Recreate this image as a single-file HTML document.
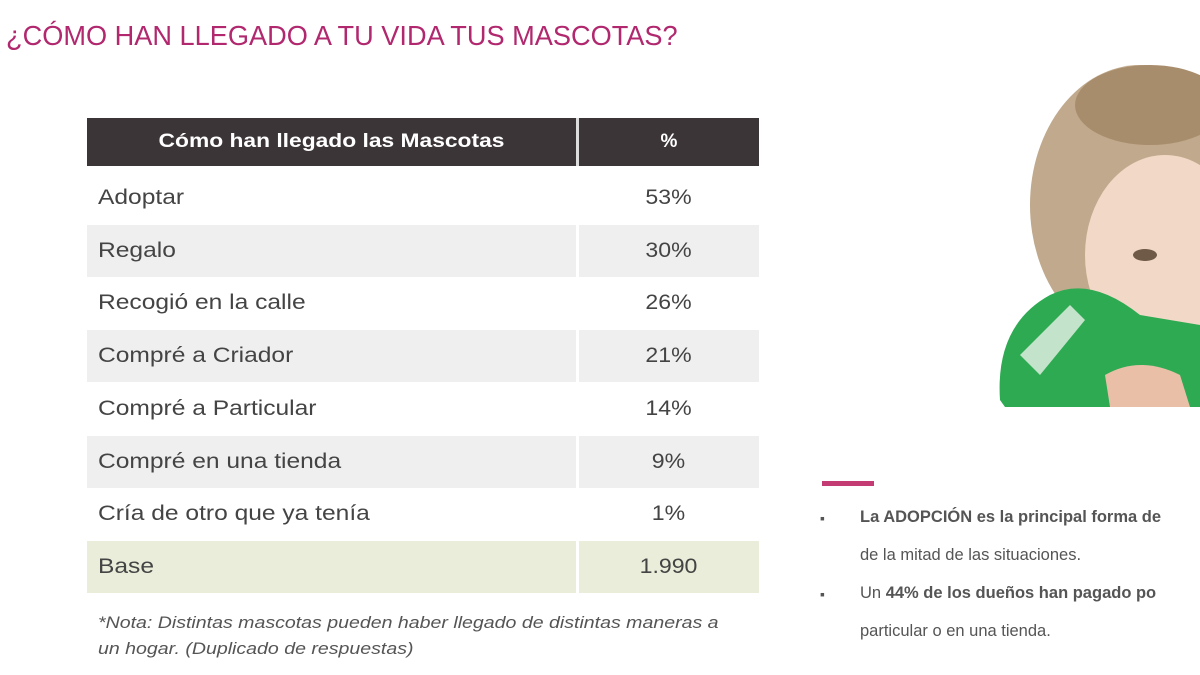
<!DOCTYPE html>
<html><head><meta charset="utf-8">
<style>
body{margin:0;width:1200px;height:675px;background:#fff;position:relative;overflow:hidden;font-family:"Liberation Sans",sans-serif;}
.abs{position:absolute;}
#title{left:6px;top:20px;font-size:28px;color:#b1286f;white-space:nowrap;transform:scaleX(0.97);transform-origin:left top;}
.row{position:absolute;left:87px;width:672px;height:52px;}
.lab{position:absolute;left:11px;top:0;line-height:52px;font-size:21px;color:#444;white-space:nowrap;transform:scaleX(1.17);transform-origin:left center;}
.val{position:absolute;left:491px;width:181px;text-align:center;top:0;line-height:52px;font-size:21px;color:#444;transform:scaleX(1.1);}
#note{left:98px;top:610px;font-size:17px;font-style:italic;color:#555;line-height:26px;white-space:nowrap;transform:scaleX(1.15);transform-origin:left top;}
.bt{left:860px;font-size:16.5px;color:#555;white-space:nowrap;}
.bul{left:820px;font-size:14px;color:#555;}
</style></head><body>
<div id="title" class="abs">¿CÓMO HAN LLEGADO A TU VIDA TUS MASCOTAS?</div>

<div class="abs" style="left:87px;top:118px;width:672px;height:48px;background:#3c3537;">
  <div class="abs" style="left:0;width:489px;top:0;line-height:48px;text-align:center;color:#fff;font-weight:bold;font-size:19px;transform:scaleX(1.2);">Cómo han llegado las Mascotas</div>
  <div class="abs" style="left:489px;width:3px;top:0;height:48px;background:#ddd;"></div>
  <div class="abs" style="left:492px;width:180px;top:0;line-height:48px;text-align:center;color:#fff;font-weight:bold;font-size:19px;">%</div>
</div>
<div id="rows"></div>

<div id="note" class="abs">*Nota: Distintas mascotas pueden haber llegado de distintas maneras a<br>un hogar. (Duplicado de respuestas)</div>

<svg class="abs" style="left:990px;top:55px" width="210" height="360">
  <ellipse cx="150" cy="150" rx="110" ry="140" fill="#b59a78" opacity="0.85"/>
  <ellipse cx="175" cy="200" rx="80" ry="100" fill="#f2d9c7"/>
  <ellipse cx="160" cy="50" rx="75" ry="40" fill="#a88d6c"/>
  <ellipse cx="155" cy="200" rx="12" ry="6" fill="#6f5a48"/>
  <path d="M10 345 Q5 270 60 240 Q100 220 150 260 L210 270 L210 352 L15 352 Z" fill="#2eaa52"/>
  <path d="M30 300 L80 250 L95 265 L50 320 Z" fill="#e8f3e8" opacity="0.8"/>
  <path d="M115 320 Q150 300 190 320 L200 352 L120 352 Z" fill="#e9bfa8"/>
</svg>

<div class="abs" style="left:822px;top:481px;width:52px;height:5px;background:#c33b72;"></div>
<div class="abs bul" style="top:510px">▪</div>
<div class="abs bt" style="top:508px"><b>La ADOPCIÓN es la principal forma de</b></div>
<div class="abs bt" style="top:546px">de la mitad de las situaciones.</div>
<div class="abs bul" style="top:586px">▪</div>
<div class="abs bt" style="top:584px">Un <b>44% de los dueños han pagado po</b></div>
<div class="abs bt" style="top:622px">particular o en una tienda.</div>

<script>
const categories=["Adoptar","Regalo","Recogió en la calle","Compré a Criador","Compré a Particular","Compré en una tienda","Cría de otro que ya tenía","Base"];
const values=["53%","30%","26%","21%","14%","9%","1%","1.990"];
const host=document.getElementById('rows');
categories.forEach((c,i)=>{
  const r=document.createElement('div');
  r.className='row';
  
  
  r.style.top=(172+i*52.7)+'px';
  r.style.background=(i===categories.length-1)?'#e9edd9':(i%2?'#efefef':'#fff');
  const l=document.createElement('div');l.className='lab';l.textContent=c;
  
  
  const v=document.createElement('div');v.className='val';v.textContent=values[i];
  
  
  const d=document.createElement('div');d.className='abs';d.style.cssText='left:489px;width:3px;top:0;height:52px;background:#fff';
  
  
  r.appendChild(l);r.appendChild(d);r.appendChild(v);host.appendChild(r);
});
</script>
</body></html>
